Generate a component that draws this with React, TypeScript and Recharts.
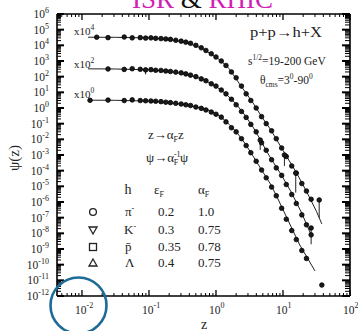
import React from 'react';
import { ComposedChart, Line, Scatter, XAxis, YAxis, ErrorBar } from 'recharts';

const SERIF = '"Liberation Serif", "Times New Roman", serif';
const W = 358;
const H = 331;

// axis definitions
const X_DOMAIN: [number, number] = [0.00424, 100];
const Y_DOMAIN: [number, number] = [1e-12, 1e6];
const xMajorTicks = [0.01, 0.1, 1, 10, 100];
const xMajorLabels = ['-2', '-1', '0', '1', '2'];
const yMajorExponents = [-12, -11, -10, -9, -8, -7, -6, -5, -4, -3, -2, -1, 0, 1, 2, 3, 4, 5, 6];
const minorMultipliers = [2, 3, 4, 5, 6, 7, 8, 9];

// fitted curves (z, psi)
const fitBottomZ = [0.0123, 0.0316, 0.1, 0.2, 0.4, 0.79, 1.15, 1.58, 2.04, 2.7, 3.55, 4.8, 6.5, 8.1, 11.7, 17.8, 30];
const fitBottomPsi = [3.16, 3.1, 2.75, 2.2, 1.5, 0.71, 0.3, 0.089, 0.028, 5.6e-3, 8.9e-4, 1.1e-4, 1.4e-5, 2.2e-6, 7.9e-8, 1.8e-9, 4e-11];
const fitMiddleZ = [0.0123, 0.0316, 0.1, 0.2, 0.4, 0.65, 1.0, 1.41, 2.0, 2.7, 3.55, 4.57, 5.75, 7.24, 9.55, 13.2, 19, 26.9];
const fitMiddlePsi = [316, 309, 275, 219, 132, 66, 24, 7.9, 1.78, 0.35, 0.063, 0.01, 1.6e-3, 3.2e-4, 5e-5, 4.5e-6, 2e-7, 6.3e-9];
const fitTopZ = [0.0123, 0.0316, 0.1, 0.2, 0.355, 0.63, 1.15, 1.58, 2.24, 3.55, 4.8, 6.46, 10, 16.2, 22.9, 31.6, 38];
const fitTopPsi = [33000, 32500, 29500, 24000, 15500, 6300, 1150, 320, 35, 2.2, 0.28, 0.045, 2e-3, 6.3e-5, 4e-6, 2.5e-7, 4e-8];

// measured points (z, psi)
const ptsBottomZ = [0.0132, 0.0245, 0.0427, 0.0562, 0.0741, 0.0891, 0.107, 0.126, 0.151, 0.178, 0.209, 0.251, 0.302, 0.355, 0.417, 0.501, 0.603, 0.708, 0.851, 1.0, 1.2, 1.41, 1.7, 2.0, 2.4, 2.82, 3.31, 3.98, 4.79, 5.62, 6.76, 7.94, 9.55, 11.2, 13.5, 15.8, 19.1, 22.4, 38];
const ptsBottomPsi = [3.1, 3.2, 3.0, 3.3, 3.0, 2.9, 2.8, 2.7, 2.55, 2.35, 2.2, 2.0, 1.8, 1.6, 1.45, 1.15, 0.95, 0.75, 0.55, 0.4, 0.26, 0.13, 0.055, 0.03, 0.011, 4e-3, 1.4e-3, 4e-4, 1.1e-4, 3.5e-5, 9e-6, 2.5e-6, 4e-7, 8e-8, 1.5e-8, 4e-9, 8e-10, 2.5e-10, 5e-12];
const ptsMiddleZ = [0.0245, 0.0427, 0.0562, 0.0741, 0.107, 0.126, 0.151, 0.178, 0.209, 0.251, 0.302, 0.355, 0.417, 0.501, 0.603, 0.708, 0.851, 1.0, 1.2, 1.41, 1.7, 2.0, 2.4, 2.82, 3.31, 3.98, 4.79, 5.62, 6.76, 7.94, 9.55, 11.2, 13.5, 15.8, 19.1, 22.4, 26.3];
const ptsMiddlePsi = [310, 290, 320, 295, 280, 255, 250, 230, 215, 195, 175, 150, 125, 100, 72, 55, 35, 25, 14, 8, 3.6, 1.6, 0.6, 0.25, 0.09, 0.03, 6e-3, 2e-3, 5e-4, 1.5e-4, 5e-5, 1.3e-5, 3e-6, 8e-7, 1.5e-7, 3.5e-8, 8e-9];
const ptsTopZ = [0.0166, 0.0245, 0.0427, 0.0562, 0.0741, 0.0891, 0.107, 0.126, 0.151, 0.178, 0.209, 0.251, 0.302, 0.355, 0.417, 0.501, 0.603, 0.708, 0.851, 1.0, 1.2, 1.41, 1.7, 2.0, 2.4, 2.82, 3.31, 3.98, 4.79, 5.62, 6.76, 7.94, 9.55, 11.2, 13.5, 15.8, 19.1, 22.4, 26.3];
const ptsTopPsi = [33000, 31000, 34000, 30000, 31000, 29000, 30000, 28000, 27000, 25500, 24000, 21000, 18500, 16000, 13500, 10000, 7000, 4700, 2900, 1800, 1000, 520, 200, 85, 25, 8, 3, 1.0, 0.28, 0.1, 0.035, 0.011, 2.8e-3, 8e-4, 2e-4, 7e-5, 1.5e-5, 5e-6, 1.5e-6];

// points with error bars (z, psi, [minus, plus])
const errZ = [0.0891, 4.57, 10.5, 15.5, 26.3, 34.7];
const errPsi = [270, 9e-3, 1e-3, 7e-5, 2.2e-8, 1.35e-6];
const errMinus = [130, 6.9e-3, 8e-4, 6.6e-5, 2e-8, 1.25e-6];
const errPlus = [100, 0, 0, 0, 0, 0];

const zip = (zs: number[], ps: number[]) => zs.map((z, i) => ({ z, psi: ps[i] }));
const fitBottom = zip(fitBottomZ, fitBottomPsi);
const fitMiddle = zip(fitMiddleZ, fitMiddlePsi);
const fitTop = zip(fitTopZ, fitTopPsi);
const ptsBottom = zip(ptsBottomZ, ptsBottomPsi);
const ptsMiddle = zip(ptsMiddleZ, ptsMiddlePsi);
const ptsTop = zip(ptsTopZ, ptsTopPsi);
const errPts = errZ.map((z, i) => ({ z, psi: errPsi[i], err: [errMinus[i], errPlus[i]] }));

const yMajorTicks = yMajorExponents.map((e) => Number(`1e${e}`));
const buildTicks = (exps: number[], lo: number, hi: number) => {
  const out: number[] = [];
  exps.forEach((e) => {
    out.push(Number(`1e${e}`));
    minorMultipliers.forEach((m) => out.push(Number(`${m}e${e}`)));
  });
  return out.filter((v) => v >= lo && v <= hi);
};
const xAllTicks = buildTicks([-3, -2, -1, 0, 1, 2], X_DOMAIN[0], X_DOMAIN[1]);
const yAllTicks = buildTicks(yMajorExponents, Y_DOMAIN[0], Y_DOMAIN[1]);

const isMajorX = (v: number) => xMajorTicks.indexOf(v);
const isMajorY = (v: number) => yMajorTicks.indexOf(v);

const BottomTick = (props: any) => {
  const { x, payload } = props;
  const y = 296;
  const i = isMajorX(payload.value);
  if (i >= 0) {
    return (
      <g>
        <line x1={x} x2={x} y1={y} y2={y - 6} stroke="#000" strokeWidth={1.3} />
        <text x={x - 7} y={y + 17.5} fontFamily={SERIF} fontSize={11.5} fill="#222">
          10<tspan dy={-5.5} fontSize={8}>{xMajorLabels[i]}</tspan>
        </text>
      </g>
    );
  }
  return <line x1={x} x2={x} y1={y} y2={y - 3} stroke="#000" strokeWidth={1} />;
};

const TopTick = (props: any) => {
  const { x, payload } = props;
  const y = 14;
  const major = isMajorX(payload.value) >= 0;
  return <line x1={x} x2={x} y1={y} y2={y + (major ? 6 : 3)} stroke="#000" strokeWidth={major ? 1.3 : 1} />;
};

const LeftTick = (props: any) => {
  const { y, payload } = props;
  const x = 57;
  const i = isMajorY(payload.value);
  if (i >= 0) {
    return (
      <g>
        <line x1={x} x2={x + 7} y1={y} y2={y} stroke="#000" strokeWidth={2} />
        <text x={x - 8} y={y + 4} textAnchor="end" fontFamily={SERIF} fontSize={11.5} fill="#222">
          10<tspan dy={-5} fontSize={8}>{String(yMajorExponents[i])}</tspan>
        </text>
      </g>
    );
  }
  return <line x1={x} x2={x + 4} y1={y} y2={y} stroke="#000" strokeWidth={1} />;
};

const RightTick = (props: any) => {
  const { y, payload } = props;
  const x = 350;
  const major = isMajorY(payload.value) >= 0;
  return <line x1={x} x2={x - (major ? 8 : 5)} y1={y} y2={y} stroke="#000" strokeWidth={major ? 2 : 1} />;
};

const Dot = (props: any) => {
  const { cx, cy } = props;
  if (cx == null || cy == null) return null;
  return <circle cx={cx} cy={cy} r={2.3} fill="#1a1a1a" stroke="#000" strokeWidth={0.8} />;
};

const axisLine = { stroke: '#000', strokeWidth: 1.6 };

export default function App() {
  return (
    <div style={{ position: 'absolute', left: 0, top: 0, width: W, height: H, background: '#fff' }}>
      <ComposedChart width={W} height={H} margin={{ top: 13, right: 7, bottom: 34, left: 56 }}>
        <XAxis
          dataKey="z"
          type="number"
          scale="log"
          domain={X_DOMAIN}
          allowDataOverflow
          ticks={xAllTicks}
          interval={0}
          height={1}
          tickSize={0}
          tickMargin={0}
          tick={<BottomTick />}
          axisLine={axisLine}
          tickLine={false}
        />
        <XAxis
          xAxisId="top"
          orientation="top"
          dataKey="z"
          type="number"
          scale="log"
          domain={X_DOMAIN}
          allowDataOverflow
          ticks={xAllTicks}
          interval={0}
          height={1}
          tickSize={0}
          tickMargin={0}
          tick={<TopTick />}
          axisLine={axisLine}
          tickLine={false}
        />
        <YAxis
          type="number"
          scale="log"
          domain={Y_DOMAIN}
          allowDataOverflow
          ticks={yAllTicks}
          interval={0}
          width={1}
          tickSize={0}
          tickMargin={0}
          tick={<LeftTick />}
          axisLine={axisLine}
          tickLine={false}
        />
        <YAxis
          yAxisId="right"
          orientation="right"
          type="number"
          scale="log"
          domain={Y_DOMAIN}
          allowDataOverflow
          ticks={yAllTicks}
          interval={0}
          width={1}
          tickSize={0}
          tickMargin={0}
          tick={<RightTick />}
          axisLine={axisLine}
          tickLine={false}
        />
        <Line data={fitBottom} dataKey="psi" type="linear" stroke="#222" strokeWidth={1} dot={false} isAnimationActive={false} />
        <Line data={fitMiddle} dataKey="psi" type="linear" stroke="#222" strokeWidth={1} dot={false} isAnimationActive={false} />
        <Line data={fitTop} dataKey="psi" type="linear" stroke="#222" strokeWidth={1} dot={false} isAnimationActive={false} />
        <Scatter data={ptsBottom} dataKey="psi" shape={<Dot />} isAnimationActive={false} />
        <Scatter data={ptsMiddle} dataKey="psi" shape={<Dot />} isAnimationActive={false} />
        <Scatter data={ptsTop} dataKey="psi" shape={<Dot />} isAnimationActive={false} />
        <Scatter data={errPts} dataKey="psi" shape={<Dot />} isAnimationActive={false}>
          <ErrorBar dataKey="err" direction="y" width={0} stroke="#222" strokeWidth={1} isAnimationActive={false} />
        </Scatter>
      </ComposedChart>

      <svg width={W} height={H} style={{ position: 'absolute', left: 0, top: 0, pointerEvents: 'none' }} fontFamily={SERIF}>
        {/* title, cropped at the top as in the source */}
        <text x={132} y={7.5} fontSize={27}>
          <tspan fill="#d21eb4">ISR</tspan>
          <tspan fill="#111"> &amp; </tspan>
          <tspan fill="#d21eb4">RHIC</tspan>
        </text>

        {/* curve scale labels */}
        <text x={74} y={35} fontSize={11} fill="#222">x10<tspan dy={-5} fontSize={7.5}>4</tspan></text>
        <text x={74} y={68} fontSize={11} fill="#222">x10<tspan dy={-5} fontSize={7.5}>2</tspan></text>
        <text x={74} y={98} fontSize={11} fill="#222">x10<tspan dy={-5} fontSize={7.5}>0</tspan></text>

        {/* reaction info */}
        <text x={250} y={37} fontSize={14} fill="#222" textLength={72} lengthAdjust="spacingAndGlyphs">p+p→h+X</text>
        <text x={248} y={65} fontSize={11.5} fill="#222">
          s<tspan dy={-5} fontSize={7.5}>1/2</tspan><tspan dy={5}>=19-200 GeV</tspan>
        </text>
        <text x={260} y={84} fontSize={11.5} fill="#222">
          θ<tspan dy={3} fontSize={7.5}>cms</tspan><tspan dy={-3}>=3</tspan><tspan dy={-5} fontSize={7.5}>0</tspan><tspan dy={5}>-90</tspan><tspan dy={-5} fontSize={7.5}>0</tspan>
        </text>

        {/* scaling relations */}
        <text x={148} y={139} fontSize={13} fill="#222">
          z→α<tspan dy={3} fontSize={8}>F</tspan><tspan dy={-3}>z</tspan>
        </text>
        <text x={146} y={162} fontSize={13} fill="#222">
          ψ→α<tspan dy={-5} fontSize={8}>-1</tspan><tspan dy={8} dx={-7} fontSize={8}>F</tspan><tspan dy={-3} dx={2}>ψ</tspan>
        </text>

        {/* table header */}
        <text x={128} y={194} fontSize={14} fill="#222" textAnchor="middle">h</text>
        <text x={154} y={194} fontSize={13} fill="#222">ε<tspan dy={3} fontSize={8}>F</tspan></text>
        <text x={198} y={194} fontSize={13} fill="#222">α<tspan dy={3} fontSize={8}>F</tspan></text>

        {/* table symbols */}
        <circle cx={93} cy={212} r={3.4} fill="none" stroke="#222" strokeWidth={1.3} />
        <polygon points="89,227 97,227 93,234" fill="none" stroke="#222" strokeWidth={1.3} />
        <rect x={89.5} y={243.5} width={7} height={7} fill="none" stroke="#222" strokeWidth={1.3} />
        <polygon points="89,266 97,266 93,259" fill="none" stroke="#222" strokeWidth={1.3} />

        {/* table rows */}
        <text x={125} y={216} fontSize={13} fill="#222">π<tspan dy={-5} fontSize={8}>-</tspan></text>
        <text x={124} y={234} fontSize={13} fill="#222">K<tspan dy={-5} fontSize={8}>-</tspan></text>
        <text x={125} y={251} fontSize={13} fill="#222">p̄</text>
        <text x={125} y={267} fontSize={13} fill="#222">Λ</text>

        <text x={158} y={216} fontSize={13} fill="#222">0.2</text>
        <text x={158} y={234} fontSize={13} fill="#222">0.3</text>
        <text x={158} y={251} fontSize={13} fill="#222">0.35</text>
        <text x={158} y={267} fontSize={13} fill="#222">0.4</text>

        <text x={198} y={216} fontSize={13} fill="#222">1.0</text>
        <text x={198} y={234} fontSize={13} fill="#222">0.75</text>
        <text x={198} y={251} fontSize={13} fill="#222">0.78</text>
        <text x={198} y={267} fontSize={13} fill="#222">0.75</text>

        {/* axis titles */}
        <text x={201} y={329} fontSize={14} fill="#222">z</text>
        <text transform="translate(19,158) rotate(-90)" fontSize={15} fill="#222" textAnchor="middle">ψ(z)</text>

        {/* highlight circle */}
        <circle cx={78.5} cy={305.5} r={28} fill="none" stroke="#1d6b96" strokeWidth={2.6} />
      </svg>
    </div>
  );
}
